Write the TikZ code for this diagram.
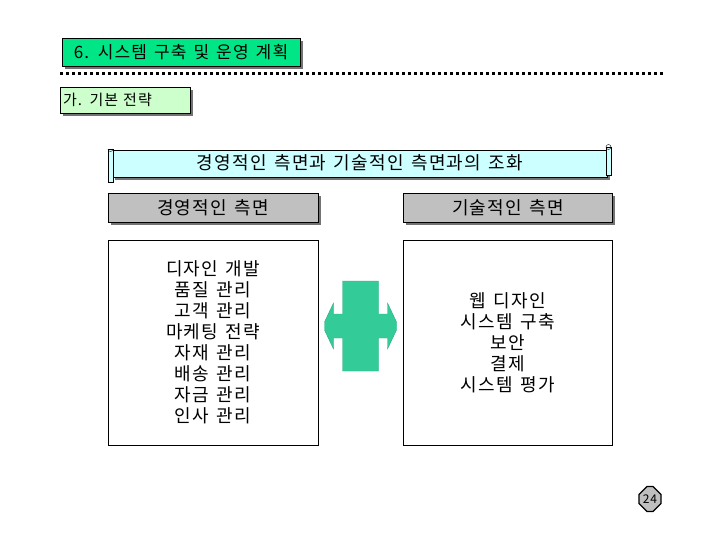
\documentclass[tikz,border=0pt]{standalone}
\usepackage{fontspec}
\setmainfont{Noto Sans CJK KR}[LetterSpace=7, WordSpace=1.4]
\usetikzlibrary{positioning,shapes.misc,shadows}

\definecolor{titlegreen}{RGB}{0,230,135}
\definecolor{subgreen}{RGB}{204,255,204}
\definecolor{scrollcyan}{RGB}{204,255,255}
\definecolor{capgray}{RGB}{192,192,192}
\definecolor{crossgreen}{RGB}{51,204,153}

\begin{document}
\begin{tikzpicture}[
  x=1pt, y=-1pt,
  shade box/.style={drop shadow={shadow xshift=3pt, shadow yshift=-3pt, fill=black!55, opacity=1}},
  hdr/.style={draw, fill=titlegreen, shade box, inner sep=0pt, font=\fontsize{17}{19}\selectfont},
  sub/.style={draw, fill=subgreen, shade box, inner sep=3pt, font=\fontsize{15}{17}\selectfont},
  sidecap/.style={draw, fill=capgray, shade box, minimum height=29pt, inner sep=0pt, font=\fontsize{18}{20}\selectfont},
  listbox/.style={draw, fill=white, minimum height=205pt, inner sep=0pt, align=center, font=\fontsize{18}{21}\selectfont},
  >=stealth
]
  \useasboundingbox (0,0) rectangle (720,540);

  % heading
  \node[hdr, minimum width=238pt, minimum height=28pt] (head) at (181,52) {6. 시스템 구축 및 운영 계획};
  \coordinate (rule-l) at (60,74);
  \coordinate (rule-r) at (663,74);
  \draw[line width=3pt, dash pattern=on 3pt off 3pt] (rule-l) -- (rule-r);
  \node[sub, minimum width=130pt, minimum height=26pt, text width=124pt, align=left] (plan) at (125,100) {가. 기본 전략};

  % scroll banner
  \fill[black!55] (115,153) rectangle (610,180);
  \filldraw[fill=scrollcyan] (112,150) rectangle (607,177);
  \filldraw[fill=scrollcyan] (108,149) rectangle (113,182);
  \draw (108,149) arc (180:0:2.5);
  \filldraw[fill=scrollcyan] (606,147) rectangle (611,175);
  \draw (608.5,147) circle (2.5);
  \node[font=\fontsize{18}{20}\selectfont] (banner) at (360,163) {경영적인 측면과 기술적인 측면과의 조화};

  % two sides
  \node[sidecap, minimum width=210pt] (mgmt) at (213,207.5) {경영적인 측면};
  \node[sidecap, minimum width=209pt, right=85pt of mgmt] (tech) {기술적인 측면};

  \node[listbox, minimum width=210pt] (mgmt-list) at (213,342.5)
    {디자인 개발\\품질 관리\\고객 관리\\마케팅 전략\\자재 관리\\배송 관리\\자금 관리\\인사 관리};
  \node[listbox, minimum width=209pt, below=18pt of tech] (tech-list)
    {웹 디자인\\시스템 구축\\보안\\결제\\시스템 평가};

  % cross arrow between the lists
  \coordinate (hub) at (360.5,326);
  \filldraw[fill=crossgreen, draw=crossgreen!85!black, line width=0.4pt]
    (hub) ++(-18,-45) -- ++(36,0) -- ++(0,33) -- ++(9,0) -- ++(0,-11) -- ++(9,19)
    -- ++(0,8) -- ++(-9,19) -- ++(0,-11) -- ++(-9,0) -- ++(0,33) -- ++(-36,0)
    -- ++(0,-33) -- ++(-9,0) -- ++(0,11) -- ++(-9,-19) -- ++(0,-8) -- ++(9,-19)
    -- ++(0,11) -- ++(9,0) -- cycle;

  % page number
  \node[chamfered rectangle, chamfered rectangle xsep=4pt, chamfered rectangle ysep=4pt, draw, line width=1.2pt,
        fill=black!25, minimum width=20pt, minimum height=25pt, inner sep=0pt,
        font=\fontsize{12}{14}\selectfont] (page) at (650,499) {24};
\end{tikzpicture}
\end{document}
